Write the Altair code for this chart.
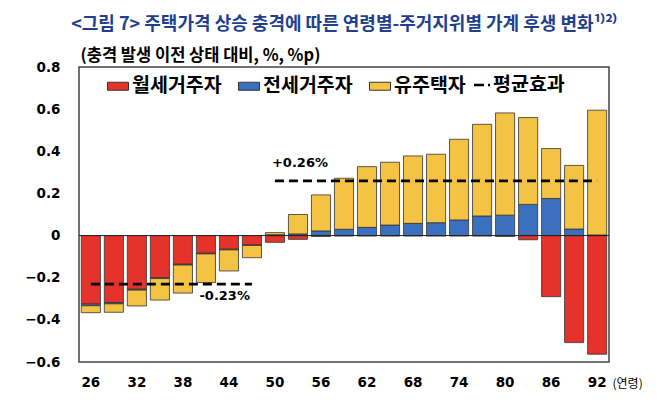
import altair as alt
import pandas as pd

# ---- data ----
ages = [26, 29, 32, 35, 38, 41, 44, 47, 50, 53, 56, 59, 62, 65, 68, 71, 74, 77, 80, 83, 86, 89, 92]
monthly_rent = [-0.325, -0.318, -0.255, -0.200, -0.136, -0.084, -0.065, -0.045, -0.032, -0.018,
                -0.004, -0.002, -0.002, -0.002, -0.002, -0.002, -0.002, -0.002, -0.004, -0.020,
                -0.290, -0.508, -0.563]
jeonse = [-0.008, -0.006, -0.004, -0.004, -0.004, -0.003, -0.003, -0.002, 0.004, 0.008,
          0.022, 0.030, 0.039, 0.050, 0.058, 0.061, 0.074, 0.093, 0.097, 0.148,
          0.176, 0.031, 0.003]
owners = [-0.033, -0.040, -0.075, -0.102, -0.133, -0.136, -0.100, -0.058, 0.010, 0.092,
          0.171, 0.242, 0.288, 0.298, 0.320, 0.325, 0.383, 0.435, 0.485, 0.412,
          0.237, 0.302, 0.592]
series_names = ["월세거주자", "전세거주자", "유주택자"]
series_colors = ["#E5322A", "#3B70BF", "#F4C343"]

avg_values = [-0.23, 0.26]
avg_start = [26, 50]
avg_end = [47, 92]
avg_labels = ["-0.23%", "+0.26%"]

x_tick_labels = [26, 32, 38, 44, 50, 56, 62, 68, 74, 80, 86, 92]
y_ticks = [-0.6, -0.4, -0.2, 0, 0.2, 0.4, 0.6, 0.8]

title_text = "<그림 7> 주택가격 상승 충격에 따른 연령별-주거지위별 가계 후생 변화¹⁾²⁾"
unit_text = "(충격 발생 이전 상태 대비, %, %p)"
x_unit = "(연령)"
avg_name = "평균효과"

# ---- tables ----
rows = []
for i, a in enumerate(ages):
    for k, (name, vals) in enumerate(zip(series_names, [monthly_rent, jeonse, owners])):
        rows.append({"age": a, "group": name, "value": vals[i], "order": k})
df = pd.DataFrame(rows)

df_avg = pd.DataFrame({"age": avg_start, "age_end": avg_end, "value": avg_values, "label": avg_labels})
df_zero = pd.DataFrame({"value": [0]})

KR = "Noto Sans CJK KR"
NUM = "DejaVu Sans"

x_enc = alt.X(
    "age:O",
    scale=alt.Scale(paddingInner=0.17, paddingOuter=0.1),
    axis=alt.Axis(
        values=x_tick_labels, labelAngle=0, domain=False, ticks=False, tickSize=0,
        labelFont=NUM, labelFontWeight="bold", labelFontSize=13.5, labelColor="black",
        labelPadding=13, title=x_unit, titleFont=KR, titleFontWeight="normal",
        titleFontSize=12, titleColor="black", titleAngle=0, titleAlign="left",
        titleBaseline="middle", titleX=533, titleY=21,
    ),
)
y_enc = alt.Y(
    "value:Q",
    stack="zero",
    scale=alt.Scale(domain=[-0.6, 0.8], nice=False, zero=False),
    axis=alt.Axis(
        values=y_ticks, grid=False, ticks=False, tickSize=0, domain=False,
        labelExpr="datum.value == 0 ? '0' : format(datum.value, '.1f')",
        labelFont=NUM, labelFontWeight="bold", labelFontSize=13.5, labelColor="black",
        labelPadding=19, title=unit_text, titleFont=KR, titleFontWeight="bold",
        titleFontSize=16.5, titleColor="black", titleAngle=0, titleAlign="left",
        titleBaseline="middle", titleX=1, titleY=-12,
    ),
)

bars = alt.Chart(df).mark_bar(stroke="#333333", strokeWidth=0.8).encode(
    x=x_enc,
    y=y_enc,
    color=alt.Color(
        "group:N",
        scale=alt.Scale(domain=series_names, range=series_colors),
        legend=alt.Legend(
            orient="none", legendX=28, legendY=8, direction="horizontal", title=None,
            symbolType="M-1,-0.38H1V0.38H-1Z", symbolSize=441, symbolStrokeColor="#333333",
            symbolStrokeWidth=1, symbolOpacity=1, labelFont=KR, labelFontWeight="bold",
            labelFontSize=19.5, labelColor="black", labelOffset=3, columnPadding=14, padding=0,
        ),
    ),
    order=alt.Order("order:Q"),
)

zero_line = alt.Chart(df_zero).mark_rule(color="#222222", strokeWidth=1).encode(y="value:Q")

avg_lines = alt.Chart(df_avg).mark_rule(color="black", strokeWidth=2.8, strokeDash=[9, 5]).encode(
    x="age:O", x2="age_end:O", y="value:Q"
)

ann_neg = alt.Chart(df_avg.iloc[[0]]).mark_text(
    align="right", baseline="middle", dx=-2, dy=12, font=NUM, fontWeight="bold",
    fontSize=13, color="black",
).encode(x="age_end:O", y="value:Q", text="label:N")

ann_pos = alt.Chart(df_avg.iloc[[1]]).mark_text(
    align="left", baseline="middle", dx=-3, dy=-18, font=NUM, fontWeight="bold",
    fontSize=13, color="black",
).encode(x="age:O", y="value:Q", text="label:N")

leg_dash = alt.Chart(df_zero).mark_rule(color="black", strokeWidth=2.5, strokeDash=[10, 4]).encode(
    x=alt.value(395), x2=alt.value(411), y=alt.value(18)
)
leg_text = alt.Chart(pd.DataFrame({"t": [avg_name]})).mark_text(
    align="left", baseline="middle", font=KR, fontWeight="bold", fontSize=19.5, color="black"
).encode(x=alt.value(414), y=alt.value(18), text="t:N")

chart = alt.layer(bars, zero_line, avg_lines, ann_neg, ann_pos, leg_dash, leg_text).properties(
    width=530,
    height=295,
    padding={"left": 71, "top": 59, "right": 41, "bottom": 33},
    autosize=alt.AutoSizeParams(type="none"),
    background="white",
    title=alt.TitleParams(
        title_text, anchor="middle", frame="group", font=KR, fontWeight="bold",
        fontSize=18, color="#1F3F8F", offset=13,
    ),
).configure_view(stroke="#444444", strokeWidth=1.5)

chart.save("out.html", embed_options={"renderer": "svg", "actions": False})
